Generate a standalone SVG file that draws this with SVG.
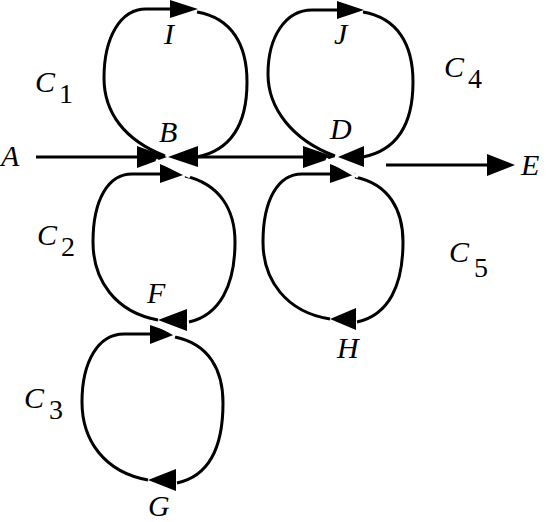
<svg xmlns="http://www.w3.org/2000/svg" width="548" height="522" viewBox="0 0 548 522">
<style>
.ln{fill:none;stroke:#000;stroke-width:3}
.wh{fill:none;stroke:#fff;stroke-width:3}
.ah{fill:#000;stroke:none}
.lb{font-family:"Liberation Serif","DejaVu Serif",serif;font-style:italic;font-size:30px;fill:#000}
.sb{font-family:"Liberation Serif","DejaVu Serif",serif;font-size:28px;fill:#000}
</style>
<rect width="548" height="522" fill="#fff"/>
<g id="connectors">
  <line class="ln" x1="36" y1="157" x2="140" y2="157"/>
  <polygon class="ah" points="137,146 137,168 167,157"/>
  <line class="ln" x1="197" y1="157" x2="305" y2="157"/>
  <polygon class="ah" points="303,146 303,168 335,157"/>
  <line class="ln" x1="386" y1="165" x2="490" y2="165"/>
  <polygon class="ah" points="487,154 487,176 515,165"/>
  <path class="ln" d="M165,156 C124,140 104,112 104,78 C104,38 120,9 146,9 L174,9"/>
  <polygon class="ah" points="170,0 170,18 198,9"/>
  <path class="ln" d="M197,12 C232,18 247,45 247,82 C247,124 232,150 197,157"/>
  <polygon class="ah" points="198,146 198,167 168,157"/>
  <path class="ln" d="M335,156 C292,140 268,108 268,74 C268,36 286,10 312,10 L340,10"/>
  <polygon class="ah" points="337,1 337,19 364,10"/>
  <path class="ln" d="M363,12 C398,18 413,45 413,82 C413,124 398,150 363,157"/>
  <polygon class="ah" points="364,146 364,167 338,157"/>
  <path class="ln" d="M158,320 C115,312 93,280 93,242 C93,200 108,174 132,174 L164,174"/>
  <polygon class="ah" points="160,164 160,183 186,174"/>
  <path class="ln" d="M185,176 C220,184 235,210 235,242 C235,285 220,315 189,322"/>
  <polygon class="ah" points="187,309 187,331 158,320"/>
  <path class="ln" d="M330,319 C286,312 263,280 263,242 C263,200 278,174 302,174 L334,174"/>
  <polygon class="ah" points="330,164 330,183 356,174"/>
  <path class="ln" d="M355,177 C389,184 403,210 403,242 C403,285 389,315 357,322"/>
  <polygon class="ah" points="356,308 356,330 330,319"/>
  <path class="ln" d="M148,480 C104,472 82,440 82,402 C82,362 98,334 124,334 L154,334"/>
  <polygon class="ah" points="150,325 150,344 176,334"/>
  <path class="ln" d="M175,337 C209,344 223,370 223,403 C223,447 209,476 177,483"/>
  <polygon class="ah" points="176,469 176,491 148,480"/>
  <line class="wh" x1="156" y1="160" x2="190" y2="177"/>
  <line class="wh" x1="326" y1="159" x2="358" y2="177"/>
  <line class="wh" x1="150" y1="321" x2="176" y2="335"/>
</g>
<g id="A"><text class="lb" x="1" y="166">A</text></g>
<g id="B"><text class="lb" x="159" y="142">B</text></g>
<g id="D"><text class="lb" x="330" y="139">D</text></g>
<g id="E"><text class="lb" x="521" y="175">E</text></g>
<g id="F"><text class="lb" x="147" y="303">F</text></g>
<g id="G"><text class="lb" x="148" y="516">G</text></g>
<g id="H"><text class="lb" x="337" y="358">H</text></g>
<g id="I"><text class="lb" x="164" y="44">I</text></g>
<g id="J"><text class="lb" x="334" y="44">J</text></g>
<g id="C1"><text class="lb" x="35" y="92">C</text><text class="sb" x="59" y="103">1</text></g>
<g id="C2"><text class="lb" x="37" y="245">C</text><text class="sb" x="61" y="256">2</text></g>
<g id="C3"><text class="lb" x="24" y="408">C</text><text class="sb" x="49" y="419">3</text></g>
<g id="C4"><text class="lb" x="444" y="77">C</text><text class="sb" x="468" y="88">4</text></g>
<g id="C5"><text class="lb" x="449" y="262">C</text><text class="sb" x="474" y="277">5</text></g>
</svg>
